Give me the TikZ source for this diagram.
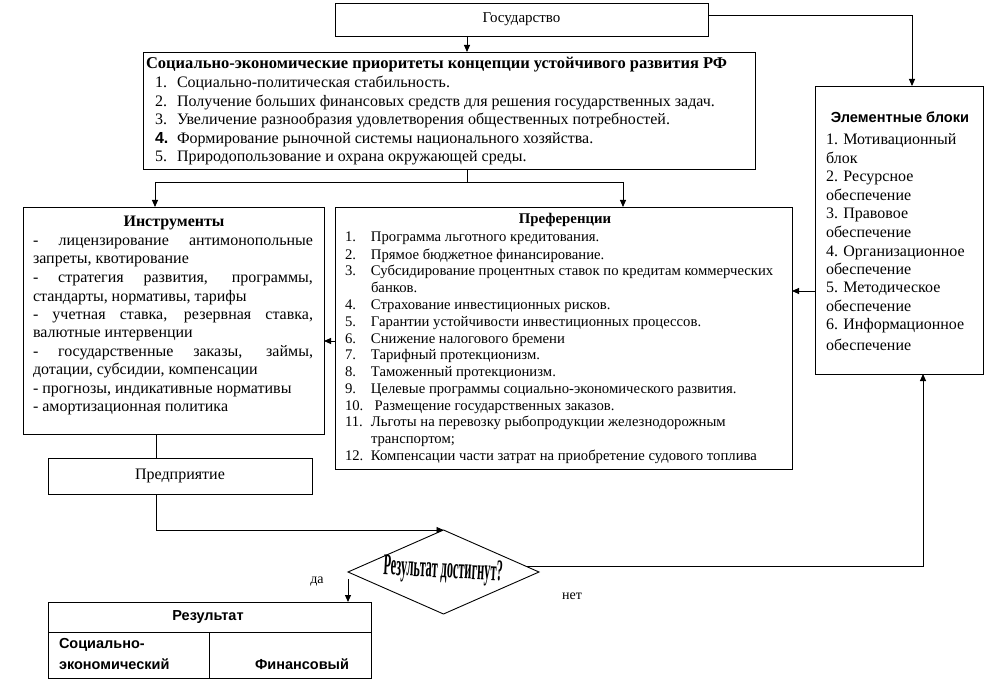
\documentclass[tikz,border=0pt]{standalone}
\usepackage{fontspec}
\setmainfont{Liberation Serif}
\newfontfamily\hsans{Liberation Sans}
\usetikzlibrary{arrows.meta,shapes.geometric,calc}
\newcommand\tl[4]{\node[tx] (#1) at (#2,#3) {#4};}
\newcommand\tp[4]{\node[tx,font=\fontsize{14.7}{16}\selectfont] (#1) at (#2,#3) {#4};}
\newcommand\jl[1]{\makebox[280pt][s]{#1}}
\newcommand\nm[2]{\makebox[22pt][l]{#1}#2}
\newcommand\pn[2]{\makebox[26pt][l]{#1}#2}
\begin{document}
\begin{tikzpicture}[x=1pt,y=-1pt,
  every node/.style={inner sep=0pt,outer sep=0pt},
  box/.style={draw,line width=0.9pt,anchor=north west},
  tx/.style={anchor=base west,font=\fontsize{16}{18}\selectfont},
  hd/.style={anchor=base,font=\fontsize{16}{18}\selectfont\bfseries},
  tb/.style={font=\fontsize{14.5}{16}\selectfont\hsans\bfseries},
  wire/.style={line width=0.9pt},
  arr/.style={line width=0.9pt,-{Triangle[length=7pt,width=6pt]}}]
\useasboundingbox (0,0) rectangle (996,687);
% boxes
\node[box,minimum width=373pt,minimum height=33pt,font=\fontsize{15}{17}\selectfont] (gos) at (335,3) {Государство};
\node[box,minimum width=612pt,minimum height=117pt] (prio) at (143,52) {};
\node[box,minimum width=301pt,minimum height=227pt] (instr) at (23,207) {};
\node[box,minimum width=457pt,minimum height=262pt] (pref) at (335,207) {};
\node[box,minimum width=168pt,minimum height=288pt] (elem) at (815,86) {};
\node[box,minimum width=264pt,minimum height=36pt,font=\fontsize{16}{18}\selectfont] (pred) at (48,458) {Предприятие};
\node[draw,line width=0.9pt,shape=diamond,minimum width=191pt,minimum height=84pt] (dia) at (443.5,572) {};
\node[box,minimum width=323pt,minimum height=76pt] (res) at (48,602) {};
% priorities text
\node[tx,font=\fontsize{16.5}{18}\selectfont\bfseries] (p0) at (146,69) {Социально-экономические приоритеты концепции устойчивого развития РФ};
\tl{p1}{155}{88}{\nm{1.}{Социально-политическая стабильность.}}
\tl{p2}{155}{107}{\nm{2.}{Получение больших финансовых средств для решения государственных задач.}}
\tl{p3}{155}{125}{\nm{3.}{Увеличение разнообразия удовлетворения общественных потребностей.}}
\tl{p4}{155}{144}{\nm{\hsans\bfseries 4.}{Формирование рыночной системы национального хозяйства.}}
\tl{p5}{155}{162}{\nm{5.}{Природопользование и охрана окружающей среды.}}
% instruments text
\node[hd] (i0) at (174,227) {Инструменты};
\tl{i1}{33}{245}{\jl{- лицензирование антимонопольные}}
\tl{i2}{33}{263}{запреты, квотирование}
\tl{i3}{33}{282}{\jl{- стратегия развития, программы,}}
\tl{i4}{33}{301}{стандарты, нормативы, тарифы}
\tl{i5}{33}{319}{\jl{- учетная ставка, резервная ставка,}}
\tl{i6}{33}{337}{валютные интервенции}
\tl{i7}{33}{356}{\jl{- государственные заказы, займы,}}
\tl{i8}{33}{374}{дотации, субсидии, компенсации}
\tl{i9}{33}{393}{- прогнозы, индикативные нормативы}
\tl{i10}{33}{411}{- амортизационная политика}
% preferences text
\node[hd,font=\fontsize{14.8}{16}\selectfont\bfseries] (r0) at (565,224) {Преференции};
\tp{r1}{345}{242}{\pn{1.}{Программа льготного кредитования.}}
\tp{r2}{345}{259}{\pn{2.}{Прямое бюджетное финансирование.}}
\tp{r3}{345}{276}{\pn{3.}{Субсидирование процентных ставок по кредитам коммерческих}}
\tp{r3b}{371}{292}{банков.}
\tp{r4}{345}{309}{\pn{4.}{Страхование инвестиционных рисков.}}
\tp{r5}{345}{326}{\pn{5.}{Гарантии устойчивости инвестиционных процессов.}}
\tp{r6}{345}{343}{\pn{6.}{Снижение налогового бремени}}
\tp{r7}{345}{359}{\pn{7.}{Тарифный протекционизм.}}
\tp{r8}{345}{376}{\pn{8.}{Таможенный протекционизм.}}
\tp{r9}{345}{393}{\pn{9.}{Целевые программы социально-экономического развития.}}
\tp{r10}{345}{410}{\pn{10.}{\ Размещение государственных заказов.}}
\tp{r11}{345}{426}{\pn{11.}{Льготы на перевозку рыбопродукции железнодорожным}}
\tp{r11b}{371}{443}{транспортом;}
\tp{r12}{345}{460}{\pn{12.}{Компенсации части затрат на приобретение судового топлива}}
% element blocks text
\node[hd,font=\fontsize{14.6}{16}\selectfont\hsans\bfseries] (e0) at (900,123) {Элементные блоки};
\tl{e1}{826}{145}{1. Мотивационный}
\tl{e2}{826}{164}{блок}
\tl{e3}{826}{182}{2. Ресурсное}
\tl{e4}{826}{201}{обеспечение}
\tl{e5}{826}{219}{3. Правовое}
\tl{e6}{826}{238}{обеспечение}
\tl{e7}{826}{256}{4. Организационное}
\tl{e8}{826}{274}{обеспечение}
\tl{e9}{826}{292}{5. Методическое}
\tl{e10}{826}{311}{обеспечение}
\tl{e11}{826}{329}{6. Информационное}
\tl{e12}{826}{350}{обеспечение}
% result table
\draw[wire] (res.west |- 0,632) -- (res.east |- 0,632);
\draw[wire] (209,632) -- (res.south -| 209,0);
\node[tb] (t0) at (208,617) {Результат};
\node[tb,anchor=west] (t1) at (59,645) {Социально-};
\node[tb,anchor=west] (t2) at (59,664) {экономический};
\node[tb] (t3) at (302,664) {Финансовый};
% diamond text
\node[rotate=-3] (dq) at (443,571) {\scalebox{0.41}[1]{\fontsize{30}{32}\selectfont\bfseries Результат достигнут?}};
\node[font=\fontsize{14}{16}\selectfont] (da) at (317,582) {да};
\node[font=\fontsize{14}{16}\selectfont] (net) at (572,596) {нет};
% connectors
\coordinate (c1) at (467,0);
\coordinate (c2) at (912,15);
\coordinate (c3) at (155,182);
\coordinate (c4) at (623,182);
\coordinate (c5) at (0,291);
\coordinate (c6) at (0,341);
\coordinate (c7) at (156,530);
\coordinate (c8) at (923,0);
\draw[arr] (gos.south -| c1) -- (prio.north -| c1);
\draw[arr] (gos.east |- c2) -- (c2) -- (elem.north -| c2);
\draw[wire] (prio.south -| c1) -- (c1 |- c3);
\draw[wire] (c3) -- (c4);
\draw[arr] (c3) -- (instr.north -| c3);
\draw[arr] (c4) -- (pref.north -| c4);
\draw[arr] (elem.west |- c5) -- (pref.east |- c5);
\draw[arr] (pref.west |- c6) -- (instr.east |- c6);
\draw[wire] (instr.south -| c7) -- (pred.north -| c7);
\draw[arr] (pred.south -| c7) -- (c7) -- (dia.north);
\draw[arr] ([yshift=-7pt]dia.west) -- (res.north -| dia.west);
\coordinate (c9) at ($(dia.east)!0.14!(dia.north)$);
\draw[arr] (c9) -- (c9 -| c8) -- (elem.south -| c8);
\end{tikzpicture}
\end{document}
